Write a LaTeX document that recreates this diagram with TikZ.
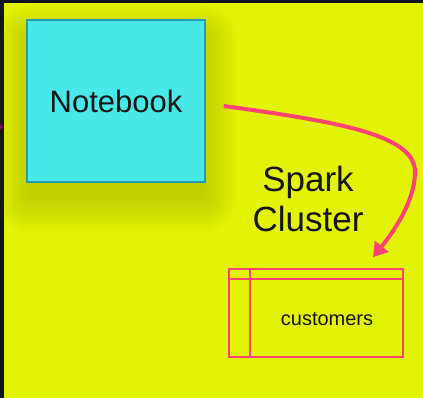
\documentclass[tikz,border=0pt]{standalone}
\usepackage{fontspec}
\setmainfont{Liberation Sans}
\usetikzlibrary{positioning, calc, arrows.meta}

\definecolor{canvasdark}{HTML}{12131F}
\definecolor{boardyellow}{HTML}{E2F305}
\definecolor{shadowolive}{HTML}{7A7F00}
\definecolor{notecyan}{HTML}{48E8EA}
\definecolor{noteedge}{HTML}{2A9CB0}
\definecolor{sparkpink}{HTML}{FF4372}
\definecolor{inkdark}{HTML}{161616}

\tikzset{
    notebox/.style={draw=noteedge, line width=1.5pt, fill=notecyan, minimum width=178pt, minimum height=162pt,
        inner sep=0pt, text=inkdark, font=\fontsize{31}{36}\selectfont},
    tablebox/.style={draw=sparkpink, line width=1.6pt, minimum width=174pt, minimum height=88pt, inner sep=0pt},
    flowarrow/.style={draw=sparkpink, line width=4pt, -{Triangle[length=14pt, width=17pt]}}
}

\begin{document}
\begin{tikzpicture}[x=1pt, y=-1pt]
    \useasboundingbox (0,0) rectangle (423,398);
    \fill[canvasdark] (0,0) rectangle (423,398);
    \fill[boardyellow] (4,3) rectangle (423,398);
    \fill[violet] (0,124) -- (3,127) -- (0,130) -- cycle;

    % soft shadow under the notebook
    \foreach \r in {0,2,...,34}
        \fill[shadowolive, opacity=0.016, rounded corners=\r pt] (29-\r,38-\r) rectangle (203+\r,198+\r);

    \node[notebox] (notebook) at (116,101) {Notebook};
    \node[text=inkdark, align=center, font=\fontsize{35}{40}\selectfont] (cluster) at (308,199) {Spark\\Cluster};

    \node[tablebox] (table) at (316,313) {};
    \draw[sparkpink, line width=1.6pt] ([yshift=-11pt]table.north west) -- ([yshift=-11pt]table.north east);
    \draw[sparkpink, line width=1.6pt] ([xshift=22pt]table.north west) -- ([xshift=22pt]table.south west);
    \node[text=inkdark, font=\fontsize{20}{24}\selectfont] (customers) at ([xshift=11pt, yshift=-6pt]table.center) {customers};

    \coordinate (arrowstart) at ([xshift=18pt, yshift=-5pt]notebook.east);
    \coordinate (arrowend) at ([xshift=57pt, yshift=11pt]table.north);
    \draw[flowarrow] (arrowstart) .. controls (340,122) and (415,135) .. (415,172)
        .. controls (415,200) and (395,230) .. (arrowend);
\end{tikzpicture}
\end{document}
